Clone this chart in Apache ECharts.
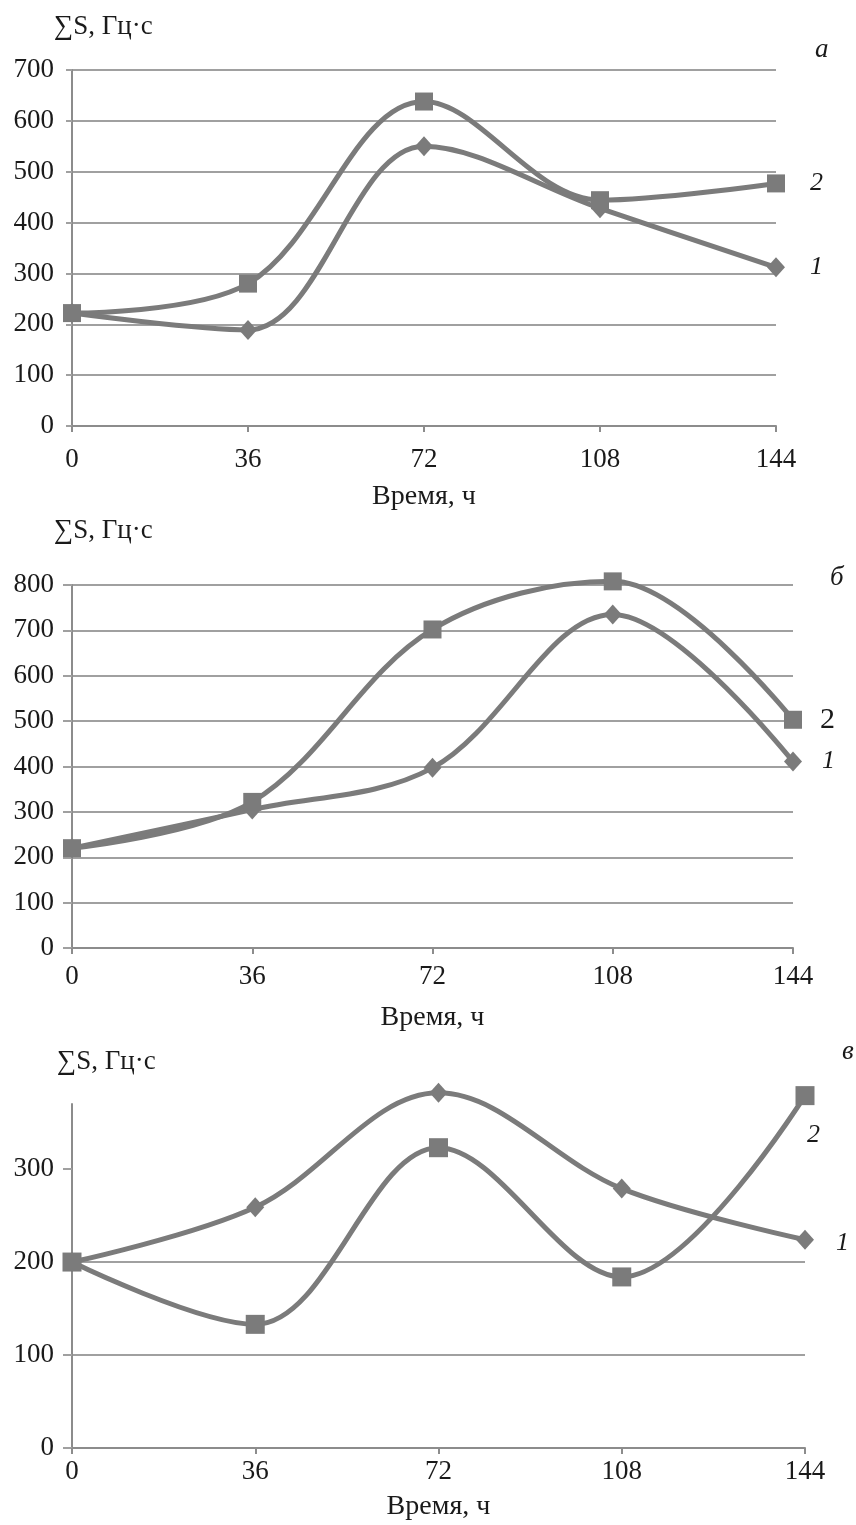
<!DOCTYPE html>
<html>
<head>
<meta charset="utf-8">
<script src="https://cdn.jsdelivr.net/npm/echarts@6/dist/echarts.min.js"></script>
<style>
    html, body { margin: 0; padding: 0; background: #fff; }
    #main { width: 856px; height: 1525px; }
</style>
</head>
<body>
<div id="main"></div>
<script>
    // время, ч
    var hours = [0, 36, 72, 108, 144];

    // панель а
    var a1 = [222, 189, 550, 428, 312];
    var a2 = [222, 280, 638, 444, 477];
    // панель б
    var b1 = [220, 305, 397, 735, 411];
    var b2 = [220, 322, 702, 808, 503];
    // панель в
    var v1 = [200, 259, 382, 279, 224];
    var v2 = [200, 133, 323, 184, 379];

    var yTicksV = [0, 100, 200, 300];

    var FONT = '"Liberation Serif", "DejaVu Serif", serif';
    var LINE = '#7b7b7b';
    var AXIS = '#8c8c8c';
    var GRIDC = '#a0a0a0';

    function pairs(ys){
        var out = [];
        for(var i = 0; i < hours.length; i++){
            out.push([hours[i], ys[i]]);
        }
        return out;
    }

    function xAx(idx, gap, margin){
        return {
            type: 'value', gridIndex: idx, min: 0, max: 144, interval: 36,
            name: 'Время, ч', nameLocation: 'middle', nameGap: gap,
            nameTextStyle: {fontFamily: FONT, fontSize: 28, color: '#1a1a1a'},
            axisLine: {lineStyle: {color: AXIS, width: 2}},
            axisTick: {show: true, length: 6, lineStyle: {color: AXIS, width: 2}},
            axisLabel: {fontFamily: FONT, fontSize: 27, color: '#1a1a1a', margin: margin},
            splitLine: {show: false}
        };
    }

    function yAx(idx, max, tickLen){
        return {
            type: 'value', gridIndex: idx, min: 0, max: max, interval: 100,
            axisLine: {show: true, lineStyle: {color: AXIS, width: 2}},
            axisTick: {show: true, length: tickLen, lineStyle: {color: GRIDC, width: 2}},
            axisLabel: {fontFamily: FONT, fontSize: 27, color: '#1a1a1a', margin: 18},
            splitLine: {show: true, lineStyle: {color: GRIDC, width: 2}}
        };
    }

    function line(idx, data, symbol, size, label, endCfg){
        return {
            type: 'line', xAxisIndex: idx, yAxisIndex: idx,
            data: pairs(data), smooth: 0.35, clip: false,
            symbol: symbol, symbolSize: size, showAllSymbol: true,
            lineStyle: {color: LINE, width: 5},
            itemStyle: {color: LINE},
            endLabel: {
                show: true, formatter: label, distance: endCfg.distance,
                offset: endCfg.offset || [0, 0],
                fontFamily: FONT, fontSize: endCfg.size || 26,
                fontStyle: endCfg.italic === false ? 'normal' : 'italic',
                color: '#1a1a1a'
            },
            animation: false
        };
    }

    function txt(x, y, s, size, italic){
        return {
            type: 'text', left: x, top: y,
            style: {text: s, fontFamily: FONT, fontSize: size, fill: '#1a1a1a',
                    fontStyle: italic ? 'italic' : 'normal'}
        };
    }

    var chart = echarts.init(document.getElementById('main'), null, {renderer: 'canvas'});

    var yC = yAx(2, 370, 9);
    yC.splitLine.showMaxLine = false;
    yC.axisLabel.customValues = yTicksV;
    yC.axisTick.customValues = yTicksV;

    var option = {
        backgroundColor: '#fff',
        animation: false,
        grid: [
            {left: 72, top: 70, width: 704, height: 356},
            {left: 72, top: 585, width: 721, height: 363},
            {left: 72, top: 1104, width: 733, height: 344}
        ],
        xAxis: [xAx(0, 57, 20), xAx(1, 56, 15), xAx(2, 45, 10)],
        yAxis: [yAx(0, 700, 6), yAx(1, 800, 9), yC],
        graphic: [
            txt(54, 13, '∑S, Гц·с', 27),
            txt(815, 36, 'а', 27, true),
            txt(54, 517, '∑S, Гц·с', 27),
            txt(830, 564, 'б', 27, true),
            txt(57, 1048, '∑S, Гц·с', 27),
            txt(842, 1038, 'в', 27, true)
        ],
        series: [
            line(0, a1, 'diamond', [18, 20], '1', {distance: 34}),
            line(0, a2, 'rect', 18, '2', {distance: 34}),
            line(1, b1, 'diamond', [18, 20], '1', {distance: 29}),
            line(1, b2, 'rect', 18, '2', {distance: 27, size: 30, italic: false}),
            line(2, v1, 'diamond', [18, 20], '1', {distance: 31, offset: [0, 3]}),
            line(2, v2, 'rect', 19, '2', {distance: 2, offset: [0, 40]})
        ]
    };

    chart.setOption(option);
</script>
</body>
</html>
